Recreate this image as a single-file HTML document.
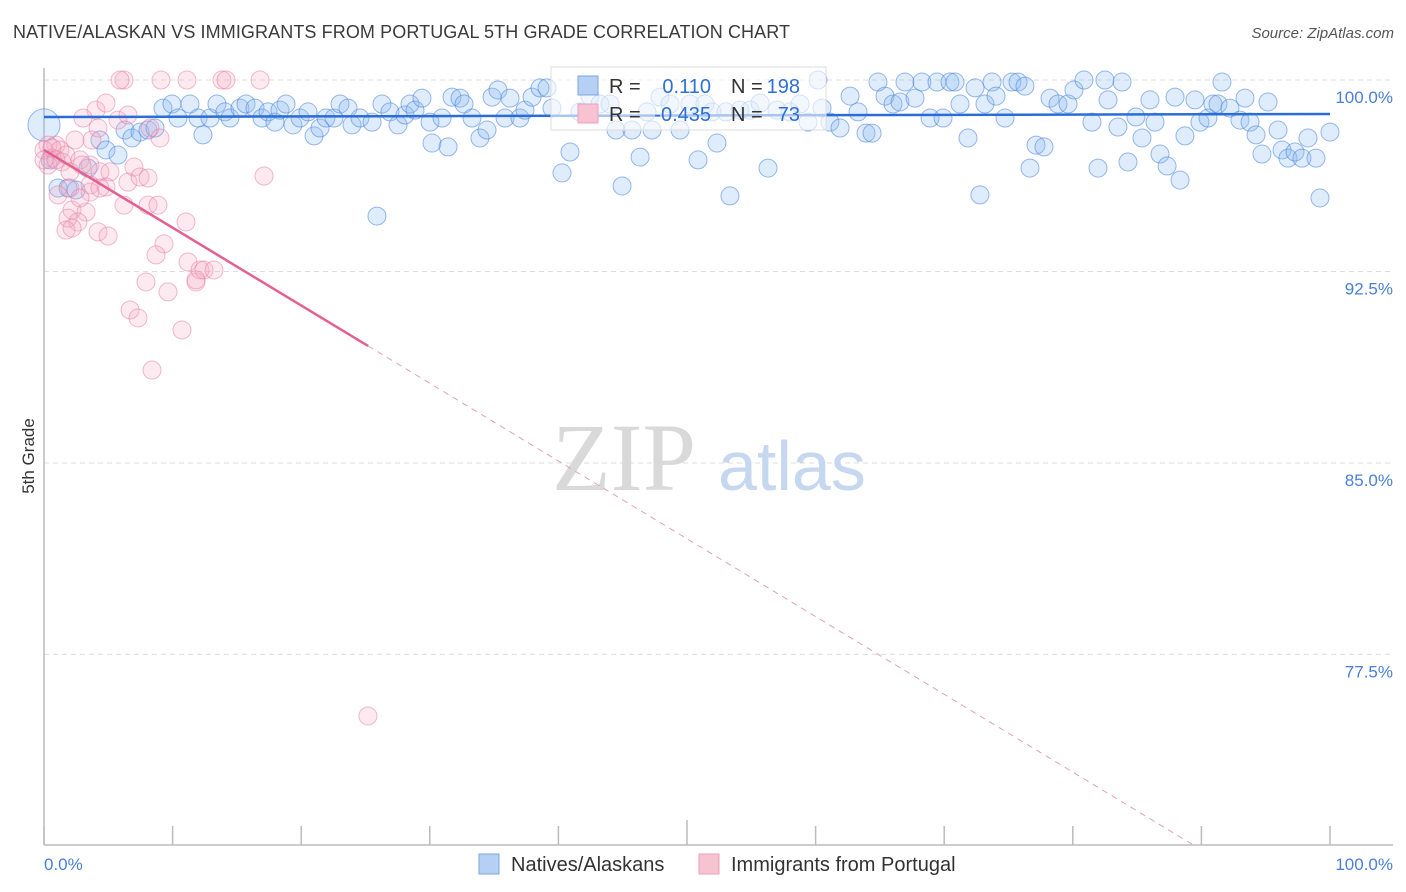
<!DOCTYPE html>
<html><head><meta charset="utf-8">
<style>
body{margin:0;background:#fff;font-family:"Liberation Sans",sans-serif;}
#wrap{position:relative;width:1406px;height:892px;overflow:hidden;}
.title{position:absolute;left:13px;top:22px;font-size:18px;color:#3a3a3a;letter-spacing:0.1px;}
.source{position:absolute;right:12px;top:25px;font-size:15px;color:#555;font-style:italic;}
</style></head>
<body>
<div id="wrap">
<div class="title">NATIVE/ALASKAN VS IMMIGRANTS FROM PORTUGAL 5TH GRADE CORRELATION CHART</div>
<div class="source">Source: ZipAtlas.com</div>
<svg id="chart" width="1406" height="892" style="position:absolute;left:0;top:0"></svg>
</div>
<script>
const blueX=[0,.47,1.09,1.87,2.49,3.42,4.35,4.82,5.75,6.30,6.84,7.47,8.09,8.63,9.25,9.95,10.42,11.35,11.98,12.36,12.91,13.45,14.07,14.46,15.24,15.71,16.41,16.95,17.42,17.96,18.35,18.82,19.36,19.91,20.53,21.0,21.46,21.93,22.55,23.02,23.64,23.95,24.57,25.51,25.89,26.28,26.9,27.53,28.07,28.46,28.85,29.39,30.02,30.17,30.95,31.42,31.73,32.35,32.66,33.28,33.9,34.45,34.84,35.3,35.85,36.24,37.01,37.4,37.95,38.57,39.11,39.5,40.28,40.9,41.68,42.46,43.23,44.01,44.48,44.95,45.72,46.35,46.89,47.28,47.9,48.68,49.46,50.23,50.86,51.4,51.94,52.33,53.03,53.34,54.12,54.9,55.68,56.3,57.0,58.01,58.79,59.41,60.19,60.5,61.12,61.9,62.68,63.3,63.92,64.39,64.85,65.4,66.02,66.56,66.95,67.73,68.27,68.9,69.44,69.91,70.45,70.84,71.23,71.85,72.4,72.78,73.17,73.72,74.03,74.73,75.27,75.74,76.28,76.67,77.14,77.76,78.23,78.85,79.63,80.09,80.87,81.49,81.96,82.5,82.74,83.51,83.83,84.29,84.91,85.38,86.0,86.39,86.78,87.33,87.95,88.34,88.72,89.5,89.89,90.51,90.9,91.29,91.6,92.22,93.0,93.39,93.78,94.25,94.71,95.18,95.96,96.27,96.73,97.28,97.82,98.29,98.91,99.22,100];
const blueY=[98.24,96.87,95.77,95.77,95.69,96.55,97.65,97.26,97.06,98.04,97.73,97.96,98.04,98.12,98.9,99.06,98.51,99.06,98.51,97.85,98.51,99.06,98.75,98.51,98.9,99.06,98.9,98.51,98.75,98.35,98.82,99.06,98.24,98.51,98.75,97.81,98.12,98.51,98.51,99.06,98.9,98.24,98.51,98.35,94.67,99.06,98.75,98.24,98.63,99.06,98.82,99.29,98.35,97.53,98.51,97.38,99.33,99.29,99.06,98.51,97.73,98.04,99.33,99.61,98.51,99.29,98.51,98.82,99.33,99.69,99.69,98.9,96.36,97.18,98.75,99.37,99.06,99.06,98.04,95.85,98.04,96.98,98.75,98.04,99.33,99.06,98.04,99.06,96.87,99.06,98.75,97.53,98.75,95.46,98.82,98.82,99.1,96.55,98.82,98.75,99.06,98.35,100,98.9,98.35,98.12,99.37,98.75,97.92,97.92,99.92,99.37,99.06,99.14,99.92,99.29,99.92,98.51,99.92,98.51,99.92,99.92,99.06,97.73,99.69,95.5,99.06,99.92,99.37,98.51,99.92,99.92,99.76,96.55,97.45,97.38,99.29,99.06,99.06,99.61,100,98.35,96.55,100,99.22,98.16,99.92,96.79,98.55,97.73,99.22,98.35,97.1,96.63,99.33,96.08,97.81,99.22,98.35,98.51,99.06,99.06,99.92,98.9,98.43,99.29,98.35,97.85,97.1,99.14,98.04,97.26,96.94,97.18,96.94,97.73,96.94,95.38,97.96];
const pinkX=[6.22,5.91,9.1,11.12,13.84,14.15,16.8,4.04,4.82,3.03,4.2,5.75,6.53,8.24,9.02,2.41,3.73,.93,.31,1.24,1.71,.62,1.4,2.8,3.58,4.35,5.13,6.53,7.0,7.47,8.09,4.82,3.58,2.02,1.09,6.22,8.09,8.86,2.18,3.27,1.87,2.64,1.71,2.18,4.2,4.98,11.04,9.33,8.71,11.2,7.93,9.64,11.82,12.13,12.44,13.22,11.82,6.69,7.31,10.73,8.4,25.19,17.11,.31,0,.62,0,.93,2.02,2.95,3.58,4.35,2.8];
const pinkY=[100,100,100,100,100,100,100,98.82,99.1,98.51,98.12,98.43,98.63,98.12,97.73,97.65,97.65,97.45,97.45,97.26,97.06,96.94,96.79,96.87,96.67,96.4,96.4,96.0,96.59,96.2,96.16,95.81,95.89,95.77,95.5,95.1,95.1,95.1,94.91,94.83,94.59,94.44,94.12,94.2,94.05,93.89,94.44,93.58,93.15,92.87,92.09,91.7,92.09,92.56,92.56,92.56,92.17,90.99,90.68,90.21,88.64,75.09,96.24,96.67,97.26,97.34,96.87,96.87,96.4,96.67,95.61,95.77,95.38];
const yTicks=[100,92.5,85,77.5];
const yTickLabels=["100.0%","92.5%","85.0%","77.5%"];
const xTickVals=[0,10,20,30,40,50,60,70,80,90,100];
const blueTrend=[98.55,98.67];
const pinkTrend=[97.26,66.8];
const pinkSolidEnd=25.2;

const svg=document.getElementById('chart');
const NS='http://www.w3.org/2000/svg';
const X0=44,X1=1330,YTOP=80,PXPER=25.53,YMIN=70.04,BOTTOM=845;
const sx=v=>X0+(v/100)*(X1-X0);
const sy=v=>YTOP+(100-v)*PXPER;
function mk(tag,attrs,parent){const e=document.createElementNS(NS,tag);for(const k in attrs)e.setAttribute(k,attrs[k]);(parent||svg).appendChild(e);return e;}

yTicks.forEach((t,i)=>{
  const g=mk('line',{x1:X0,x2:1393,y1:sy(t),y2:sy(t),stroke:'#ddd','stroke-dasharray':'5,4','stroke-width':1});
  
  
  const tx=mk('text',{x:1393,y:sy(t)+23,'text-anchor':'end','font-size':17,fill:'#4a7fd6','font-family':'Liberation Sans, sans-serif'});
  tx.textContent=yTickLabels[i];
  
  
});
const ya=mk('line',{x1:X0,x2:X0,y1:68,y2:BOTTOM,stroke:'#bbb','stroke-width':1.5});


const xa=mk('line',{x1:X0,x2:1393,y1:BOTTOM,y2:BOTTOM,stroke:'#bbb','stroke-width':1.5});


xTickVals.forEach(v=>{
  const t=mk('line',{x1:sx(v),x2:sx(v),y1:(v===50?820:826),y2:BOTTOM,stroke:'#bbb','stroke-width':1.5});
  
  
});
const wm=mk('text',{x:552,y:490,'font-size':96,fill:'#d9d9d9','font-family':'Liberation Serif, serif'});
wm.textContent='ZIP';


const wm2=mk('text',{x:718,y:490,'font-size':70,fill:'#c5d8f0','font-family':'Liberation Sans, sans-serif'});
wm2.textContent='atlas';



blueX.forEach((x,i)=>{
  const c=mk('circle',{cx:sx(x),cy:sy(blueY[i]),r:(i===0?16:9),fill:'rgba(140,185,240,0.28)',stroke:'rgba(70,130,220,0.55)','stroke-width':1});
  
  
});
pinkX.forEach((x,i)=>{
  const c=mk('circle',{cx:sx(x),cy:sy(pinkY[i]),r:9,fill:'rgba(245,170,195,0.25)',stroke:'rgba(230,120,160,0.5)','stroke-width':1});
  
  
});
const bt=mk('line',{x1:sx(0),y1:sy(blueTrend[0]),x2:sx(100),y2:sy(blueTrend[1]),stroke:'#2a6dd6','stroke-width':2.5});


const pAt=x=>pinkTrend[0]+(pinkTrend[1]-pinkTrend[0])*x/100;
const pt=mk('line',{x1:sx(0),y1:sy(pAt(0)),x2:sx(pinkSolidEnd),y2:sy(pAt(pinkSolidEnd)),stroke:'#e4608f','stroke-width':2.5});


const xEnd=100*(YMIN-pinkTrend[0])/(pinkTrend[1]-pinkTrend[0]);
const pd=mk('line',{x1:sx(pinkSolidEnd),y1:sy(pAt(pinkSolidEnd)),x2:sx(Math.min(100,xEnd)),y2:sy(Math.max(YMIN,pAt(Math.min(100,xEnd)))),stroke:'#e4a0b8','stroke-width':1,'stroke-dasharray':'6,5'});



const lg=mk('g',{});


mk('rect',{x:551,y:67,width:275,height:63,fill:'rgba(255,255,255,0.6)',stroke:'#ddd'},lg);
mk('rect',{x:578,y:76,width:20,height:19,fill:'#b5d0f3',stroke:'#7aa6e4'},lg);
mk('rect',{x:578,y:104,width:20,height:19,fill:'#f7c2d2',stroke:'#ee9fba'},lg);
function T(x,y,s,c,anchor,p){const t=mk('text',{x:x,y:y,'font-size':20,fill:c,'text-anchor':anchor||'start','font-family':'Liberation Sans, sans-serif'},p||lg);t.textContent=s;return t;}
T(609,93,'R =','#333');T(711,93,'0.110','#2e6fd6','end');T(731,93,'N =','#333');T(800,93,'198','#2e6fd6','end');
T(609,121,'R =','#333');T(711,121,'-0.435','#2e6fd6','end');T(731,121,'N =','#333');T(800,121,'73','#2e6fd6','end');

const xl0=T(44,870,'0.0%','#4a7fd6','start',svg);xl0.setAttribute('font-size',17);


const xl1=T(1393,870,'100.0%','#4a7fd6','end',svg);xl1.setAttribute('font-size',17);


const yt=mk('text',{x:34,y:456,'font-size':17,fill:'#333','text-anchor':'middle',transform:'rotate(-90 34 456)','font-family':'Liberation Sans, sans-serif'});
yt.textContent='5th Grade';



const bl=mk('g',{});


mk('rect',{x:479,y:854,width:20,height:20,fill:'#b5d0f3',stroke:'#7aa6e4'},bl);
T(511,871,'Natives/Alaskans','#333','start',bl);
mk('rect',{x:699,y:854,width:20,height:20,fill:'#f7c2d2',stroke:'#ee9fba'},bl);
T(731,871,'Immigrants from Portugal','#333','start',bl);
</script>
</body></html>
